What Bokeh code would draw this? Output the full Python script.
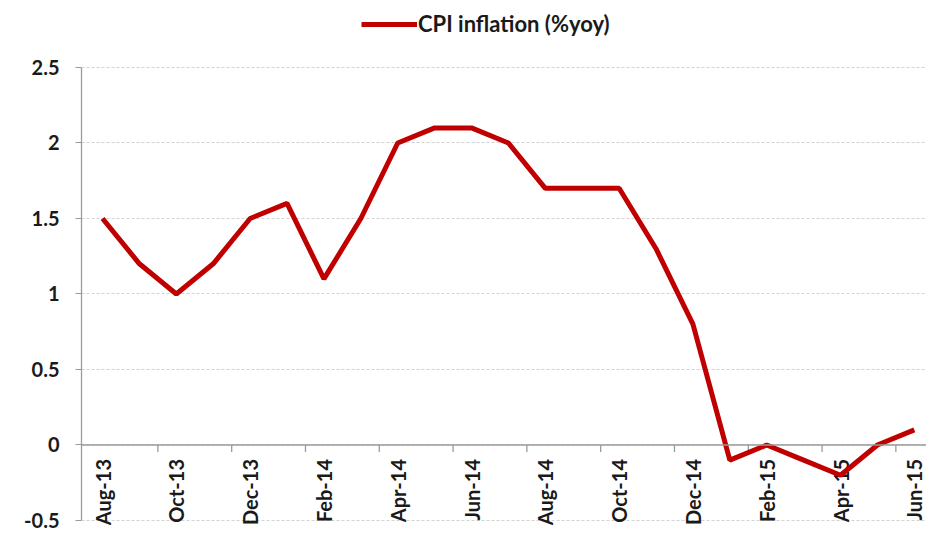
import math
from bokeh.plotting import figure
from bokeh.models import Range1d, FixedTicker, Span, Legend, LegendItem
from bokeh.core.properties import value
from bokeh.embed import file_html
from bokeh.resources import INLINE

months = ["Aug-13", "Sep-13", "Oct-13", "Nov-13", "Dec-13", "Jan-14", "Feb-14", "Mar-14",
          "Apr-14", "May-14", "Jun-14", "Jul-14", "Aug-14", "Sep-14", "Oct-14", "Nov-14",
          "Dec-14", "Jan-15", "Feb-15", "Mar-15", "Apr-15", "May-15", "Jun-15"]
cpi = [1.5, 1.2, 1.0, 1.2, 1.5, 1.6, 1.1, 1.5, 2.0, 2.1, 2.1, 2.0, 1.7, 1.7, 1.7, 1.3,
       0.8, -0.1, 0.0, -0.1, -0.2, 0.0, 0.1]
y_ticks = [-0.5, 0, 0.5, 1, 1.5, 2, 2.5]
y_tick_labels = ["-0.5", "0", "0.5", "1", "1.5", "2", "2.5"]
series_name = "CPI inflation (%yoy)"

FONT = "Lato"
TXT = "#1a1a1a"
AX = "#9a9a9a"

idx = list(range(len(months)))

p = figure(width=926, height=533, output_backend="svg", toolbar_location=None,
           x_range=Range1d(-0.57, 22.33), y_range=Range1d(-0.5861, 2.9437),
           min_border_left=81, min_border_right=0, min_border_top=0, min_border_bottom=0)
p.outline_line_color = None
p.background_fill_color = "white"
p.border_fill_color = "white"

p.xaxis.visible = False
p.xgrid.visible = False

p.yaxis.ticker = FixedTicker(ticks=y_ticks)
p.yaxis.bounds = (y_ticks[0], y_ticks[-1])
p.yaxis.major_label_overrides = {t: l for t, l in zip(y_ticks, y_tick_labels)}
p.yaxis.minor_tick_line_color = None
p.yaxis.axis_line_color = AX
p.yaxis.axis_line_width = 1.3
p.yaxis.major_tick_line_color = AX
p.yaxis.major_tick_in = 0
p.yaxis.major_tick_out = 6
p.yaxis.major_label_standoff = 16
p.yaxis.major_label_text_font = FONT
p.yaxis.major_label_text_font_style = "bold"
p.yaxis.major_label_text_font_size = "20px"
p.yaxis.major_label_text_color = TXT

p.ygrid.ticker = FixedTicker(ticks=y_ticks)
p.ygrid.grid_line_color = "#d2d2d2"
p.ygrid.grid_line_dash = "3 2"
p.ygrid.grid_line_width = 1

# x axis line at zero
p.add_layout(Span(location=0, dimension="width", line_color=AX, line_width=1.3))

# category tick marks every two months (at category boundaries)
tick_x = [i + 0.5 for i in idx[1:-1:2]]
p.ray(x=tick_x, y=[0] * len(tick_x), length=7, length_units="screen",
      angle=-math.pi / 2, line_color=AX, line_width=1.3)

# rotated category labels
lab_x = idx[::2]
lab_t = months[::2]
p.text(x=lab_x, y=[0] * len(lab_x), text=lab_t, angle=math.pi / 2,
       text_align="right", text_baseline="middle", y_offset=14,
       text_font=value(FONT), text_font_style="bold", text_font_size="20px",
       text_color=TXT)

line = p.line(x=idx, y=cpi, line_color="#c00000", line_width=5)

legend = Legend(items=[LegendItem(label=series_name, renderers=[line])],
                location=(280, 496), orientation="horizontal",
                glyph_width=56, glyph_height=22, label_height=22, label_standoff=1,
                padding=0, margin=0, spacing=0,
                border_line_color=None, background_fill_alpha=0,
                label_text_font=FONT, label_text_font_style="bold",
                label_text_font_size="22px", label_text_color=TXT)
p.add_layout(legend, "center")

open("out.html", "w").write(file_html(p, INLINE))
